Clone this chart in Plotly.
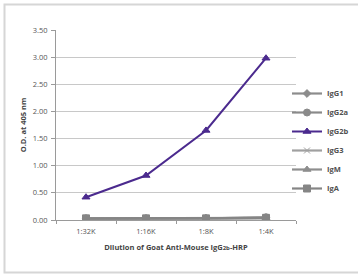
import plotly.graph_objects as go

dilutions = ["1:32K", "1:16K", "1:8K", "1:4K"]
igg1 = [0.02, 0.02, 0.03, 0.04]
igg2a = [0.03, 0.03, 0.03, 0.05]
igg2b = [0.42, 0.82, 1.65, 2.98]
igg3 = [0.02, 0.02, 0.02, 0.03]
igm = [0.02, 0.03, 0.03, 0.04]
iga = [0.03, 0.03, 0.03, 0.04]
y_ticks = [0, 0.5, 1.0, 1.5, 2.0, 2.5, 3.0, 3.5]
y_ticklabels = ["%.2f" % v for v in y_ticks]

series = [
    ("IgG1", igg1, "#8c8c8c", "diamond", 6),
    ("IgG2a", igg2a, "#8a8a8a", "circle", 7),
    ("IgG2b", igg2b, "#4b2a8e", "triangle-up", 7),
    ("IgG3", igg3, "#a0a0a0", "x-thin-open", 6),
    ("IgM", igm, "#8e8e8e", "triangle-up", 7),
    ("IgA", iga, "#858585", "square", 7),
]

fig = go.Figure()
for name, vals, col, sym, sz in series:
    fig.add_trace(go.Scatter(
        x=dilutions, y=vals, name=name, mode="lines+markers",
        line=dict(color=col, width=2 if name == "IgG2b" else 2.2),
        marker=dict(color=col, symbol=sym, size=sz, line=dict(color=col, width=1)),
    ))

W, H = 358, 278
ml, mr, mt, mb = 56, 62, 30, 58
pw, ph = W - ml - mr, H - mt - mb

def px(x):
    return (x - ml) / pw

def py(y):
    return (H - mb - y) / ph

fig.update_layout(
    width=W, height=H,
    margin=dict(l=ml, r=mr, t=mt, b=mb, pad=0, autoexpand=False),
    paper_bgcolor="white", plot_bgcolor="white",
    font=dict(family="Open Sans, Liberation Sans, sans-serif", size=7.5, color="#555555"),
    showlegend=True,
    legend=dict(
        x=px(287), y=py(79), xanchor="left", yanchor="top",
        font=dict(size=7.5, color="#505050", family="Open Sans, sans-serif", weight="bold"),
        itemwidth=30, tracegroupgap=0, bgcolor="rgba(0,0,0,0)",
    ),
    xaxis=dict(
        type="category", range=[-0.5, 3.5], showgrid=False, automargin=False,
        showline=True, linecolor="#9a9a9a", linewidth=1,
        ticks="outside", tickson="boundaries", ticklen=3, tickcolor="#9a9a9a",
        ticklabelstandoff=4,
        tickfont=dict(size=7.5, color="#555555"),
        title=dict(text="Dilution of Goat Anti-Mouse IgG<span style='font-size:6px'>2b</span>-HRP",
                   font=dict(size=7.5, color="#444444", weight="bold"), standoff=9),
    ),
    yaxis=dict(
        range=[0, 3.5], tickvals=y_ticks, ticktext=y_ticklabels, automargin=False,
        showgrid=True, gridcolor="#c8c8c8", gridwidth=1,
        showline=True, linecolor="#9a9a9a", linewidth=1,
        ticks="outside", ticklen=4, tickcolor="#9a9a9a", ticklabelstandoff=2,
        tickfont=dict(size=7.5, color="#555555"),
        zeroline=False,
        title=dict(text="O.D. at 405 nm", font=dict(size=7.5, color="#444444", weight="bold"), standoff=5),
    ),
    shapes=[dict(
        type="rect", xref="paper", yref="paper",
        x0=px(4.5), x1=px(370), y0=py(272.5), y1=py(4.5),
        line=dict(color="#d6d6d6", width=2), fillcolor="rgba(0,0,0,0)", layer="below",
    )],
)

fig.write_html(
    "out.html",
    config={"displayModeBar": False},
    post_script="document.body.style.margin='0px';document.body.style.overflow='hidden';",
)
